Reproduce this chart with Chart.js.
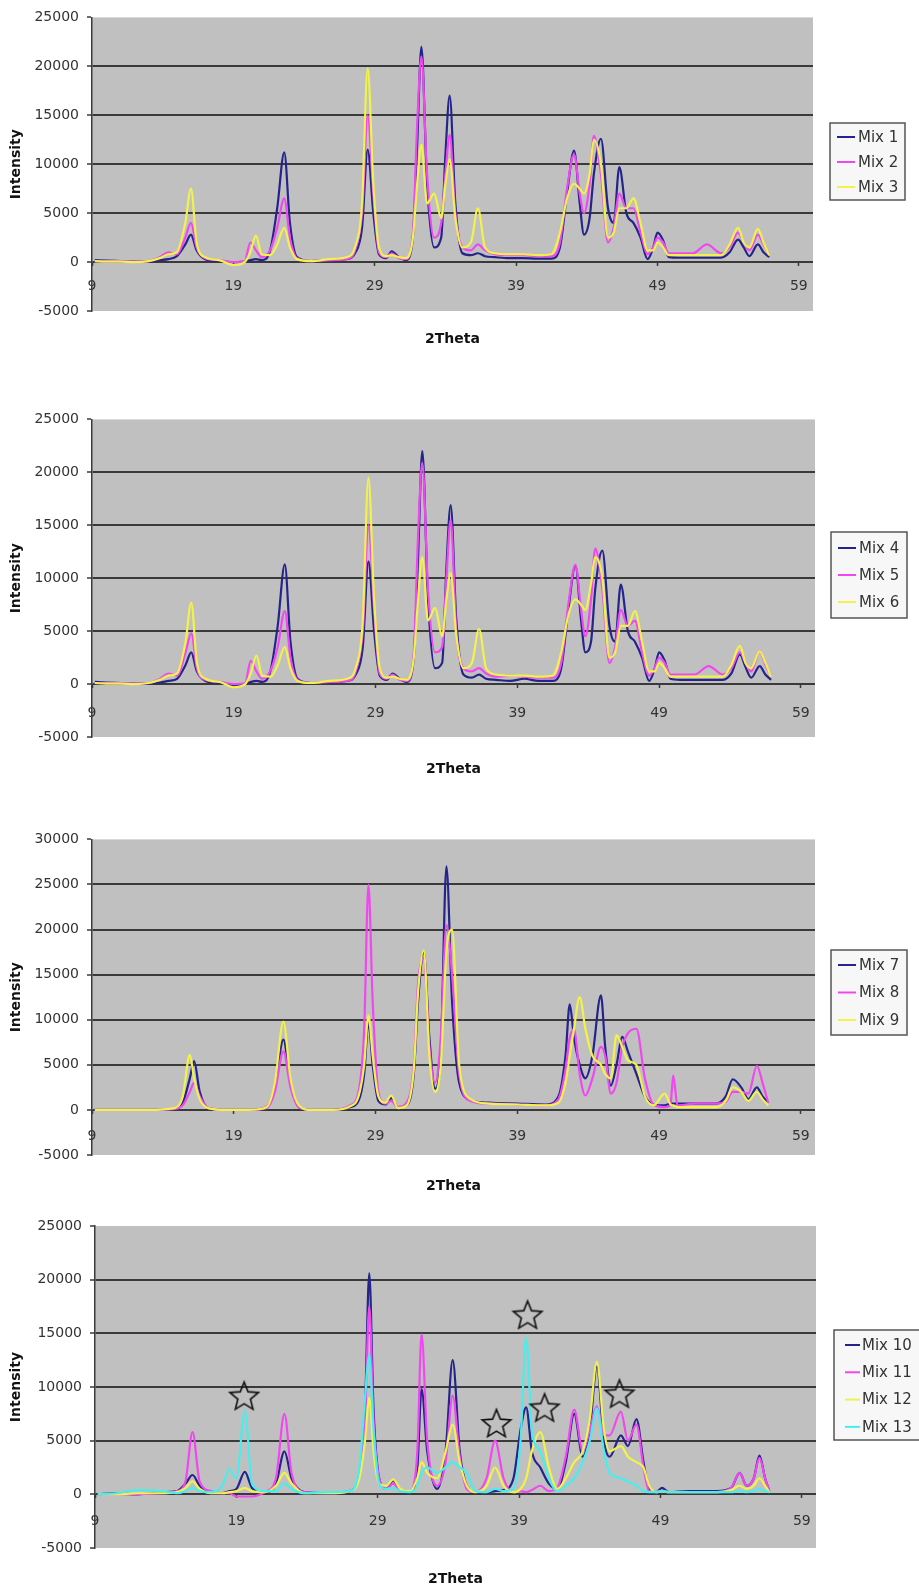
<!DOCTYPE html>
<html><head><meta charset="utf-8">
<script src="https://cdn.jsdelivr.net/npm/chart.js@4.4.1/dist/chart.umd.min.js"></script>
<style>
html,body{margin:0;padding:0;background:#fff;}
body{width:919px;height:1593px;position:relative;overflow:hidden;}
canvas{position:absolute;left:0;}
</style></head><body>
<canvas id="c1"></canvas><canvas id="c2"></canvas><canvas id="c3"></canvas><canvas id="c4"></canvas>
<script>
// ---------- DATA ----------
const xTicks = [9, 19, 29, 39, 49, 59];
const yTicks25 = [-5000, 0, 5000, 10000, 15000, 20000, 25000];
const yTicks30 = [-5000, 0, 5000, 10000, 15000, 20000, 25000, 30000];

// 2Theta grid for panels 1 and 2
const thetaA = [9.2,10,11,12,13,13.8,14.4,15,15.6,16.0, 16.4,17,18,19,19.8,20.2,20.6,21,21.6,22.1,
  22.6,23.0,23.5,24.5,25.8,27,27.6,28.1,28.5,28.9, 29.3,29.8,30.2,30.7,31.2,31.7,32.0,32.3,32.7,33.2,
  33.7,34.0,34.3,34.7,35.2,35.8,36.3,36.8,37.5,38.5, 39.5,40.5,41.5,42.1,42.6,43.1,43.5,43.8,44.2,44.5,
  45.0,45.5,45.9,46.3,46.8,47.3,47.8,48.3,48.7,49.0, 49.4,49.8,50.5,51.5,52.5,53.5,54.1,54.7,55.1,55.5,
  56.1,56.5,56.9];

const mix1 = [200,150,100,50,50,200,300,600,1800,2800, 1200,300,100,0,50,200,300,200,1200,5500,
  11200,4000,500,100,200,300,900,3500,11500,5000, 800,400,1100,500,200,2500,12000,22000,8000,1500,
  2500,11000,17000,6000,900,700,900,600,500,400, 400,350,350,1500,7000,11400,6000,2800,4500,9000,
  12600,5500,4000,9700,5000,4000,2500,300,1500,3000, 2200,500,450,450,450,450,1000,2300,1500,600,
  1800,1000,500];
const mix2 = [100,100,100,50,100,500,1000,800,2500,4000, 1500,400,200,0,100,2000,1200,500,1200,3500,
  6500,2500,400,100,200,300,1200,5000,15000,7000, 1000,500,900,400,300,3000,14000,21000,9000,2500,
  4000,9000,13000,5000,1500,1200,1800,1200,800,700, 700,600,600,2000,7500,11000,7000,5000,8000,12900,
  9000,2000,3500,7000,5500,5500,3000,800,1500,2500, 2000,900,900,900,1800,900,1500,3000,2000,1200,
  2800,1800,800];
const mix3 = [100,50,50,0,100,400,800,1000,4000,7500, 2000,500,200,-300,0,1000,2700,800,700,1800,
  3500,1500,300,100,300,500,1500,6000,19800,8000, 1500,600,700,500,400,2500,8000,12000,6000,7000,
  4500,8000,10500,4500,1500,2000,5500,1500,900,800, 800,700,800,3000,6500,8000,7500,7000,9000,12500,
  10000,2500,3000,5500,5500,6500,4000,1200,1200,2000, 1500,700,700,700,700,700,1800,3500,2000,1500,
  3400,2000,700];

const mix4 = [200,150,100,50,50,150,300,500,1800,3000, 1200,300,100,-100,50,200,300,200,1300,5500,
  11300,4000,500,100,200,300,900,3500,11600,5000, 800,400,1000,500,200,2500,12000,22000,8000,1500,
  2000,11000,16900,6000,900,600,900,500,400,300, 500,300,300,1500,7000,11200,6000,3000,4000,9000,
  12600,5500,4000,9400,5000,4000,2500,300,1500,3000, 2200,500,400,400,400,400,1000,2800,1600,600,
  1700,900,400];
const mix5 = [100,100,100,50,100,500,1000,800,3000,4800, 1500,400,200,0,100,2200,1200,500,1300,3500,
  6900,2500,400,100,200,300,1200,5000,15000,7000, 1000,500,900,400,300,3000,14000,20900,9000,3000,
  3500,10000,15500,5000,1500,1200,1500,1000,700,800, 700,600,600,2000,7500,11250,7000,4500,8000,12800,
  9000,2000,3500,7000,5500,6000,3000,800,1500,2500, 2000,900,900,900,1700,900,1500,3000,2000,1200,
  3100,1800,800];
const mix6 = [100,50,50,0,100,400,800,1000,4000,7700, 2000,500,200,-300,0,1000,2700,800,700,1800,
  3500,1500,300,100,300,500,1500,6000,19500,8000, 1500,600,700,500,400,2500,8000,12000,6000,7200,
  4500,8000,10500,4500,1500,2000,5200,1500,900,800, 800,700,800,3000,6500,8000,7500,7000,9500,12000,
  10000,2500,3000,5500,5500,6900,4000,1200,1200,2000, 1500,700,700,700,700,700,1800,3600,2000,1500,
  3100,2000,700];

// 2Theta grid for panel 3
const thetaB = [9.2,11,13,14.8,15.4,15.9,16.2,16.6,17.2,18.5, 20,21.3,21.9,22.5,23.0,23.6,24.5,26,27.2,27.8,
  28.2,28.5,28.8,29.2,29.7,30.1,30.6,31.2,31.7,32.0, 32.4,32.8,33.2,33.6,34.0,34.4,34.9,35.7,37,39,
  41,41.9,42.4,42.7,43.0,43.4,43.8,44.3,44.9,45.2, 45.6,46.0,46.4,46.8,47.4,48.0,48.6,49.4,49.8,50.0,
  50.3,51.5,53,53.7,54.2,54.8,55.3,55.9,56.3,56.7];
const mix7 = [0,0,0,100,800,3500,5400,2000,200,0, 0,300,2500,7800,3000,300,0,0,300,1000,
  4000,9800,5000,1000,600,1300,300,500,4000,12000, 17500,8000,2350,6000,27000,12000,3000,1100,800,700,
  600,1500,6000,11700,8000,5000,3500,6000,12700,7000, 2700,5000,8100,6500,4000,1500,600,500,700,700,
  700,700,700,1500,3400,2500,1200,2500,1500,800];
const mix8 = [0,0,0,100,500,2000,3000,1500,200,0, 0,200,2000,6500,2500,300,0,0,500,2000,
  9000,25000,12000,2000,700,1000,300,800,5000,14000, 16800,7000,3000,8000,20500,15000,4000,1000,700,600,
  500,1200,4500,8000,8900,4000,1600,3500,7000,6000, 1800,3000,7000,8500,9000,3500,600,300,500,3800,
  500,700,700,900,2000,2000,1800,4900,3000,800];
const mix9 = [0,0,0,200,1500,6100,3500,1200,200,0, 0,300,3000,9800,3500,500,0,0,400,1500,
  5000,10500,6000,1500,800,1600,200,500,4500,13000, 17700,6000,2000,5000,17500,20000,5000,1200,700,600,
  500,800,3000,6000,9000,12500,9000,6000,5000,4000, 3500,8300,7000,5500,5000,1500,500,1800,600,500,
  300,300,300,1000,2500,2000,1000,2000,1200,500];

// 2Theta grid for panel 4
const thetaC = [9.2,10.5,12,13.7,14.8,15.4,15.9,16.4,17.2,18.0, 18.5,19.0,19.6,20.1,21,21.8,22.4,22.9,23.8,25.5,
  27,27.7,28.1,28.4,28.7,29.1,29.6,30.1,30.6,31.3, 31.8,32.1,32.5,33.2,33.8,34.3,34.8,35.3,35.9,36.7,
  37.3,37.9,38.6,39.1,39.5,39.9,40.5,41.1,41.7,42.3, 42.9,43.5,44.0,44.5,45.0,45.4,46.2,46.7,47.3,47.8,
  48.2,48.7,49.1,49.6,51,53,54.0,54.6,55.1,55.6, 56.0,56.4,56.7];
const mix10 = [0,100,0,200,300,1000,1800,800,200,100, 300,500,2100,600,200,1000,4000,1500,200,100,
  300,2000,8000,20600,8000,1500,500,1300,400,300, 2500,9800,4000,500,4000,12500,4000,800,200,200,
  300,400,1500,6000,8100,4000,2500,1000,500,3000, 7500,3500,6000,11900,5000,3500,5500,4500,7000,3000,
  500,200,600,200,300,300,600,2000,800,1500, 3600,1500,300];
const mix11 = [0,0,0,100,300,1200,5800,1200,300,100, 100,-200,-200,-200,200,1500,7500,2000,200,100,
  300,2000,7000,17500,7000,1500,500,1000,300,300, 4000,14900,5000,800,3000,9200,3500,500,200,1500,
  5000,1500,200,300,200,400,800,300,600,3500, 7900,4000,6000,8200,5500,5500,7700,5000,6500,2500,
  300,200,300,200,200,200,600,2000,800,1500, 3400,1500,300];
const mix12 = [0,0,100,100,200,600,1200,500,100,100, 200,300,600,300,200,800,2000,1000,100,100,
  300,1500,5000,9000,4000,1000,800,1400,500,300, 1500,3000,2000,1500,4000,6500,3000,800,200,800,
  2500,800,200,500,1500,4000,5800,2500,500,1500, 3000,4000,7000,12350,6000,4000,4500,3500,3000,2500,
  800,200,300,200,200,200,400,800,500,800, 1500,800,200];
const mix13 = [0,100,400,300,100,300,600,300,200,800, 2300,1500,7800,1000,300,300,1000,500,100,200,
  300,2500,9000,13000,6000,1000,500,600,300,200, 800,2000,2500,2000,2500,3000,2500,2000,300,200,
  500,300,500,5000,14600,6000,4000,1500,300,800, 1500,3000,5000,8000,4000,2000,1500,1200,800,300,
  200,200,300,200,200,200,200,300,200,300, 500,300,200];

// star markers in panel 4
const starTheta = [19.55, 37.4, 39.6, 40.8, 46.1];
const starIntensity = [9200, 6650, 16750, 8100, 9400];

// ---------- STYLE / LAYOUT ----------
const C_NAVY = '#24248a', C_MAG = '#f048f0', C_YEL = '#f2f24a', C_CYAN = '#48eeee';
const FONT = 'DejaVu Sans';
const GRID = '#3a3a3a';

function makeStar(size) {
  const c = document.createElement('canvas'); c.width = size; c.height = size;
  const g = c.getContext('2d');
  const cx = size / 2, cy = size / 2 + 1.5, R = size / 2 - 2, r = R * 0.44;
  g.beginPath();
  for (let i = 0; i < 10; i++) {
    const a = -Math.PI / 2 + i * Math.PI / 5, rad = (i % 2 === 0) ? R : r;
    const px = cx + rad * Math.cos(a), py = cy + rad * Math.sin(a);
    if (i) g.lineTo(px, py); else g.moveTo(px, py);
  }
  g.closePath(); g.strokeStyle = '#111'; g.lineWidth = 1.6; g.stroke();
  return c;
}

const plotBg = { id: 'plotBg', beforeDraw(chart) {
  const { ctx, chartArea: a } = chart; ctx.save(); ctx.fillStyle = '#c0c0c0';
  ctx.fillRect(a.left, a.top, a.right - a.left, a.bottom - a.top); ctx.restore(); } };

const boxLegend = { id: 'boxLegend', afterDraw(chart, args, o) {
  const ctx = chart.ctx; ctx.save();
  ctx.fillStyle = '#f7f7f7'; ctx.fillRect(o.x, o.y, o.w, o.h);
  ctx.strokeStyle = '#555'; ctx.lineWidth = 1.5; ctx.strokeRect(o.x, o.y, o.w, o.h);
  let k = 0;
  chart.data.datasets.forEach(ds => {
    if (ds.isMarker) return;
    const yy = o.y + o.first + o.step * k;
    ctx.strokeStyle = ds.borderColor; ctx.lineWidth = 2;
    ctx.beginPath(); ctx.moveTo(o.x + o.l0, yy); ctx.lineTo(o.x + o.l1, yy); ctx.stroke();
    ctx.fillStyle = '#333'; ctx.font = '15px "' + FONT + '"'; ctx.textBaseline = 'middle';
    ctx.fillText(ds.label, o.x + o.tx, yy + 1);
    k++;
  });
  ctx.restore(); } };

const panels = [
  { id: 'c1', plot: [92, 13, 813, 311], titleY: 340, gap: 12, max: 25000, yTicks: yTicks25, theta: thetaA,
    series: [['Mix 1', mix1, C_NAVY], ['Mix 2', mix2, C_MAG], ['Mix 3', mix3, C_YEL]],
    legend: { x: 830, y: 123, w: 75, h: 77, first: 14, step: 25, l0: 7, l1: 25, tx: 28 } },
  { id: 'c2', plot: [92, 415, 815, 737], titleY: 770, gap: 17, max: 25000, yTicks: yTicks25, theta: thetaA,
    series: [['Mix 4', mix4, C_NAVY], ['Mix 5', mix5, C_MAG], ['Mix 6', mix6, C_YEL]],
    legend: { x: 831, y: 532, w: 76, h: 86, first: 16, step: 27, l0: 7, l1: 25, tx: 28 } },
  { id: 'c3', plot: [92, 835, 815, 1155], titleY: 1187, gap: 14, max: 30000, yTicks: yTicks30, theta: thetaB,
    series: [['Mix 7', mix7, C_NAVY], ['Mix 8', mix8, C_MAG], ['Mix 9', mix9, C_YEL]],
    legend: { x: 831, y: 950, w: 76, h: 85, first: 15, step: 27.5, l0: 7, l1: 25, tx: 28 } },
  { id: 'c4', plot: [95, 1220, 816, 1548], titleY: 1580, gap: 15, max: 25000, yTicks: yTicks25, theta: thetaC,
    series: [['Mix 10', mix10, C_NAVY], ['Mix 11', mix11, C_MAG], ['Mix 12', mix12, C_YEL], ['Mix 13', mix13, C_CYAN]],
    legend: { x: 834, y: 1330, w: 90, h: 110, first: 15, step: 27.3, l0: 11, l1: 26, tx: 28 },
    stars: true }
];

panels.forEach(p => {
  const [pl, pt, pr, pb] = p.plot;
  const cTop = pt - 12;
  const cH = Math.round(p.titleY + 8.4 - cTop);
  const cv = document.getElementById(p.id);
  cv.width = 919; cv.height = cH; cv.style.top = cTop + 'px';
  const titlePadTop = cH - 16.8 - (pb - cTop);
  const n = p.series.length;
  const datasets = p.series.map((s, i) => ({
    label: s[0], data: p.theta.map((x, j) => ({ x: x, y: s[1][j] })),
    borderColor: s[2], backgroundColor: s[2], borderWidth: 2.2, pointRadius: 0,
    cubicInterpolationMode: 'monotone', fill: false, order: n - i + 1
  }));
  if (p.stars) {
    datasets.push({ label: 'marker', isMarker: true, showLine: false,
      data: starTheta.map((x, j) => ({ x: x, y: starIntensity[j] })),
      pointStyle: makeStar(34), pointRadius: 17, order: 0 });
  }
  const lg = Object.assign({}, p.legend, { y: p.legend.y - cTop });
  new Chart(cv, {
    type: 'line',
    data: { datasets },
    plugins: [plotBg, boxLegend],
    options: {
      responsive: false, animation: false, events: [],
      layout: { padding: { top: 12, left: 0, right: 919 - pr, bottom: 0 } },
      plugins: {
        legend: { display: false }, tooltip: { enabled: false },
        title: { display: true, position: 'bottom', fullSize: false, text: '2Theta', color: '#111',
          font: { family: FONT, size: 14, weight: 'bold', lineHeight: 1.2 }, padding: { top: titlePadTop, bottom: 0 } },
        boxLegend: lg
      },
      scales: {
        x: { type: 'linear', min: 9, max: 60, position: { y: 0 },
          afterBuildTicks: s => { s.ticks = xTicks.map(v => ({ value: v })); },
          ticks: { color: '#333', font: { family: FONT, size: 14 }, padding: p.gap, maxRotation: 0, autoSkip: false,
            callback: v => String(v) },
          grid: { drawOnChartArea: false, drawTicks: true, tickLength: 4, color: GRID, tickWidth: 1.5 },
          border: { display: false } },
        y: { type: 'linear', min: -5000, max: p.max,
          afterFit: s => { s.width = pl; },
          afterBuildTicks: s => { s.ticks = p.yTicks.map(v => ({ value: v })); },
          ticks: { color: '#333', font: { family: FONT, size: 14 }, padding: 8, callback: v => String(v) },
          grid: { color: c => (c.tick && (c.tick.value === -5000 || c.tick.value === p.max)) ? 'rgba(0,0,0,0)' : GRID,
            lineWidth: 2, tickColor: GRID, tickLength: 5, tickWidth: 1.5 },
          border: { display: true, color: GRID, width: 1.5 },
          title: { display: true, text: 'Intensity', color: '#111', font: { family: FONT, size: 14, weight: 'bold', lineHeight: 1.2 },
            padding: { top: 8, bottom: 0 } } }
      }
    }
  });
});
</script>
</body></html>
